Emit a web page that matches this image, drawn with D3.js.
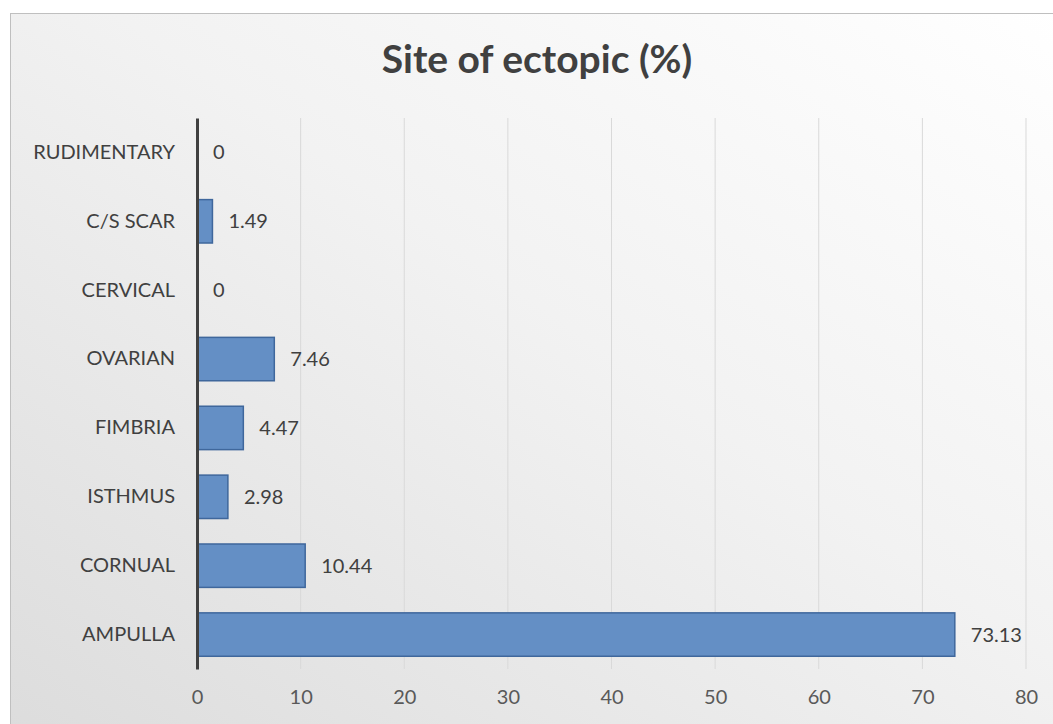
<!DOCTYPE html>
<html>
<head>
<meta charset="utf-8">
<script src="https://cdn.jsdelivr.net/npm/d3@7"></script>
<style>
  body { margin: 0; background: #fff; }
  svg { display: block; }
</style>
</head>
<body>
<svg id="chart" width="1053" height="724"></svg>
<script>
const categories = ['RUDIMENTARY', 'C/S SCAR', 'CERVICAL', 'OVARIAN', 'FIMBRIA', 'ISTHMUS', 'CORNUAL', 'AMPULLA']
const values = [0, 1.49, 0, 7.46, 4.47, 2.98, 10.44, 73.13]
const xTicks = [0, 10, 20, 30, 40, 50, 60, 70, 80]
const title = 'Site of ectopic (%)'

const svg = d3.select('#chart')
const font = 'Lato, "Open Sans", sans-serif'

// background panel
const defs = svg.append('defs')
const grad = defs.append('linearGradient')
  .attr('id', 'bg').attr('x1', '100%').attr('y1', '0%').attr('x2', '0%').attr('y2', '100%')
grad.append('stop').attr('offset', '0%').attr('stop-color', '#ffffff')
grad.append('stop').attr('offset', '45%').attr('stop-color', '#f2f2f2')
grad.append('stop').attr('offset', '100%').attr('stop-color', '#dcdcdc')

svg.append('rect')
  .attr('x', 10.5).attr('y', 13.5).attr('width', 1060).attr('height', 730)
  .attr('fill', 'url(#bg)').attr('stroke', '#bfbfbf')

const plotLeft = 197, plotRight = 1026, plotTop = 118, plotBottom = 669

const x = d3.scaleLinear().domain([0, 80]).range([plotLeft, plotRight])
const y = d3.scaleBand().domain(categories).range([plotTop, plotBottom]).paddingInner(0.37).paddingOuter(0.185)

// gridlines
svg.append('g')
  .selectAll('line')
  .data(xTicks.slice(1))
  .join('line')
  .attr('x1', d => x(d)).attr('x2', d => x(d))
  .attr('y1', plotTop).attr('y2', plotBottom)
  .attr('stroke', '#d9d9d9').attr('stroke-width', 1)

// x axis labels
const xAxis = d3.axisBottom(x).tickValues(xTicks).tickSize(0).tickPadding(21)
const gx = svg.append('g').attr('transform', `translate(0,${plotBottom})`).call(xAxis)
gx.select('.domain').remove()
gx.selectAll('text').attr('font-family', font).attr('font-size', 20).attr('fill', '#595959')

// bars
svg.append('g')
  .selectAll('rect')
  .data(values)
  .join('rect')
  .attr('x', x(0))
  .attr('y', (d, i) => y(categories[i]))
  .attr('width', d => x(d) - x(0))
  .attr('height', y.bandwidth())
  .attr('fill', '#648fc5')
  .attr('stroke', '#3f679c')
  .attr('stroke-width', 1.5)
  .attr('display', d => d > 0 ? null : 'none')

// data labels
svg.append('g')
  .selectAll('text')
  .data(values)
  .join('text')
  .attr('x', d => x(d) + 16)
  .attr('y', (d, i) => y(categories[i]) + y.bandwidth() / 2)
  .attr('dy', '0.35em')
  .attr('font-family', font).attr('font-size', 20).attr('fill', '#404040')
  .text(d => d)

// y axis
const yAxis = d3.axisLeft(y).tickSize(0).tickPadding(22)
const gy = svg.append('g').attr('transform', `translate(${plotLeft},0)`).call(yAxis)
gy.select('.domain').attr('stroke', '#404040').attr('stroke-width', 3)
gy.selectAll('text').attr('font-family', font).attr('font-size', 20).attr('fill', '#404040')

// title
svg.append('text')
  .attr('x', 537).attr('y', 73)
  .attr('text-anchor', 'middle')
  .attr('font-family', font).attr('font-weight', 'bold').attr('font-size', 39)
  .attr('fill', '#404040')
  .text(title)
</script>
</body>
</html>
